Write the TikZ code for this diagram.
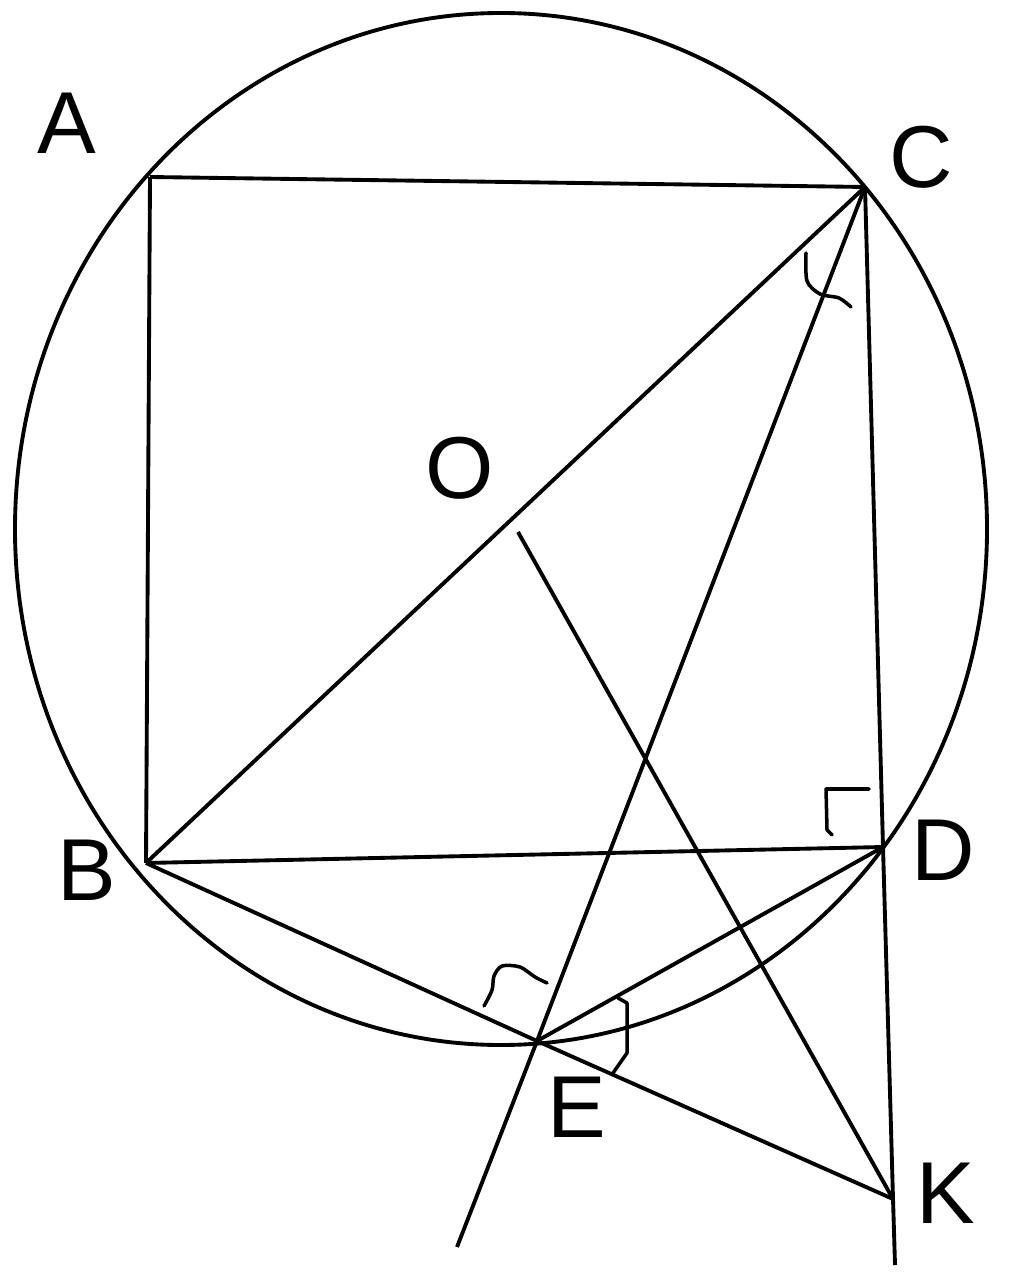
\documentclass[tikz,border=0pt]{standalone}
\usepackage{fontspec}
\setmainfont{Liberation Sans}
\tikzstyle{lbl}=[inner sep=0pt, font=\fontsize{25}{30}\selectfont]
\tikzstyle{seg}=[line width=1.1pt]
\tikzstyle{anglemark}=[line width=1pt, line cap=round, line join=round]

\begin{document}
\begin{tikzpicture}[x=0.01cm, y=-0.01cm]
\useasboundingbox (0,0) rectangle (1024,1286);
\coordinate (a) at (150, 177);
\coordinate (c) at (865, 187);
\coordinate (b) at (146, 863);
\coordinate (d) at (883, 847);
\coordinate (e) at (537, 1041);
\coordinate (k) at (893, 1199);
\coordinate (o) at (518, 532);
\coordinate (ce) at (457, 1247);
\coordinate (ck) at (895, 1265);
\node[lbl] at (67, 123) (la) {A};
\node[lbl] at (921, 157) (lc) {C};
\node[lbl] at (460, 468) (lo) {O};
\node[lbl] at (87, 870) (lb) {B};
\node[lbl] at (943, 850) (ld) {D};
\node[lbl] at (577, 1107) (le) {E};
\node[lbl] at (946, 1193) (lk) {K};
\draw[seg] (501, 529) ellipse [x radius=486, y radius=516];
\draw[seg] (a) -- (c);
\draw[seg] (a) -- (b);
\draw[seg] (b) -- (c);
\draw[seg] (b) -- (d);
\draw[seg] (b) -- (e) -- (k);
\draw[seg] (e) -- (d);
\draw[seg] (c) -- (e) -- (ce);
\draw[seg] (c) -- (d) -- (k) -- (ck);
\draw[seg] (o) -- (k);
% angle marks
\draw[anglemark] plot[smooth] coordinates {(806, 253) (807, 281) (820, 294) (839, 298) (851, 307)};
\draw[anglemark] (832, 835) -- (827, 830) -- (826, 789) -- (869, 789);
\draw[anglemark] plot[smooth] coordinates {(484, 1006) (492, 990) (494, 976) (502, 966) (520, 967) (535, 977) (547, 983)};
\draw[anglemark] (618, 998) -- (627, 1003) -- (627, 1053) -- (613, 1073);
\end{tikzpicture}
\end{document}
